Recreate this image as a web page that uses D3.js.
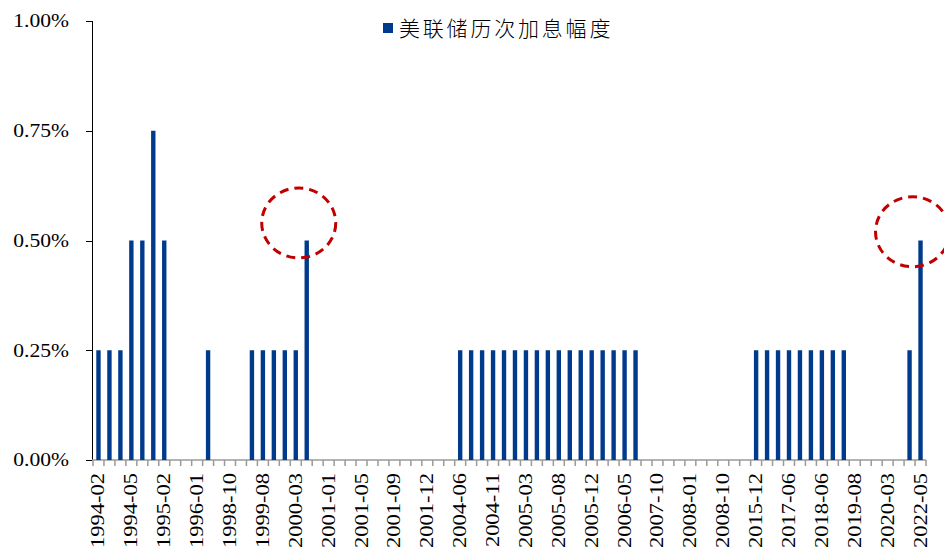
<!DOCTYPE html>
<html>
<head>
    <meta charset="utf-8">
    <title>美联储历次加息幅度</title>
    <style type="text/css">
        body { margin: 0; background: #fff; }
        .y.axis path, .y.axis line { stroke: #000; shape-rendering: crispEdges; }
        .x.axis path, .x.axis line { stroke: #9a9a9a; stroke-width: 1.5; }
        .axis text { font-family: "Liberation Serif", "Times New Roman", serif; fill: #000; }
        .legend text { font-family: "Noto Sans CJK SC", sans-serif; font-weight: 300; }
    </style>
</head>
<body>
<svg width="944" height="553"></svg>

<script src="https://cdnjs.cloudflare.com/ajax/libs/d3/7.8.5/d3.min.js"></script>
<script type="text/javascript">
    /*=========DATA=========*/
    // FOMC 利率变动月份（降息记为 0）
    var months = [
        '1994-02', '1994-03', '1994-04', '1994-05', '1994-08', '1994-11', '1995-02', '1995-07',
        '1995-12', '1996-01', '1997-03', '1998-09', '1998-10', '1998-11', '1999-06', '1999-08',
        '1999-11', '2000-02', '2000-03', '2000-05', '2001-01', '2001-01', '2001-03', '2001-04',
        '2001-05', '2001-06', '2001-08', '2001-09', '2001-10', '2001-11', '2001-12', '2002-11',
        '2003-06', '2004-06', '2004-08', '2004-09', '2004-11', '2004-12', '2005-02', '2005-03',
        '2005-05', '2005-06', '2005-08', '2005-09', '2005-11', '2005-12', '2006-01', '2006-03',
        '2006-05', '2006-06', '2007-09', '2007-10', '2007-12', '2008-01', '2008-01', '2008-03',
        '2008-04', '2008-10', '2008-10', '2008-12', '2015-12', '2016-12', '2017-03', '2017-06',
        '2017-12', '2018-03', '2018-06', '2018-09', '2018-12', '2019-08', '2019-09', '2019-10',
        '2020-03', '2020-03', '2022-03', '2022-05'
    ];
    var hikes = [
        0.25, 0.25, 0.25, 0.50, 0.50, 0.75, 0.50, 0,
        0, 0, 0.25, 0, 0, 0, 0.25, 0.25,
        0.25, 0.25, 0.25, 0.50, 0, 0, 0, 0,
        0, 0, 0, 0, 0, 0, 0, 0,
        0, 0.25, 0.25, 0.25, 0.25, 0.25, 0.25, 0.25,
        0.25, 0.25, 0.25, 0.25, 0.25, 0.25, 0.25, 0.25,
        0.25, 0.25, 0, 0, 0, 0, 0, 0,
        0, 0, 0, 0, 0.25, 0.25, 0.25, 0.25,
        0.25, 0.25, 0.25, 0.25, 0.25, 0, 0, 0,
        0, 0, 0.25, 0.50
    ];
    var yTicks = [0, 0.25, 0.5, 0.75, 1.0];
    var seriesName = '美联储历次加息幅度';
    // 圈出的两次 50bp 加息
    var highlights = [{ i: 19, v: 0.54 }, { i: 75, v: 0.52 }];

    /*===========COLOR=======*/
    var barColor = '#003a8c';
    var markColor = '#c00000';

    /*=========computed============*/
    var svg = d3.select('svg');
    var idx = months.map((d, i) => i);

    var xScale = d3.scaleBand().domain(idx).range([93, 926]).paddingInner(0.6).paddingOuter(0.3);
    var yScale = d3.scaleLinear().domain([0, 1]).range([460, 21]);

    // 坐标轴
    var yAxis = d3.axisLeft(yScale).tickValues(yTicks).tickSize(6).tickPadding(17)
        .tickFormat(d => d3.format('.2f')(d) + '%');
    svg.append('g').attr('class', 'y axis')
        .attr('transform', 'translate(92,0)')
        .call(yAxis)
        .selectAll('text')
        .attr('x', 0)
        .attr('transform', 'translate(-23,0) scale(1.2,1)')
        .style('font-size', '18px');

    // 类别边界刻度
    var step = xScale.step();
    var xg = svg.append('g').attr('class', 'x axis');
    xg.append('line')
        .attr('x1', 92).attr('x2', 926)
        .attr('y1', 460).attr('y2', 460);
    xg.selectAll('line.tick').data(d3.range(months.length + 1)).enter()
        .append('line').attr('class', 'tick')
        .attr('x1', i => 93 + i * step).attr('x2', i => 93 + i * step)
        .attr('y1', 460).attr('y2', 466);
    xg.selectAll('text').data(idx.filter(i => i % 3 === 0)).enter()
        .append('text')
        .attr('transform', i => 'translate(' + (xScale(i) + xScale.bandwidth() / 2 + 6) + ',473) rotate(-90) scale(1.25,1)')
        .attr('text-anchor', 'end')
        .style('font-size', '18px')
        .text(i => months[i]);

    // 柱子
    svg.append('g').selectAll('rect').data(idx).enter()
        .append('rect')
        .attr('x', i => xScale(i))
        .attr('width', xScale.bandwidth())
        .attr('y', i => yScale(hikes[i]))
        .attr('height', i => yScale(0) - yScale(hikes[i]))
        .attr('fill', barColor);

    // 标注圈
    svg.append('g').selectAll('ellipse').data(highlights).enter()
        .append('ellipse')
        .attr('cx', d => xScale(d.i) + xScale.bandwidth() / 2 - 8)
        .attr('cy', d => yScale(d.v))
        .attr('rx', 37)
        .attr('ry', 35)
        .attr('fill', 'none')
        .attr('stroke', markColor)
        .attr('stroke-width', 3)
        .attr('stroke-dasharray', '9,6');

    // 图例
    var legend = svg.append('g').attr('class', 'legend');
    legend.append('rect').attr('x', 383).attr('y', 23).attr('width', 10).attr('height', 10).attr('fill', barColor);
    legend.append('text').attr('x', 399).attr('y', 36)
        .style('font-size', '21px').style('letter-spacing', '2.8px')
        .text(seriesName);
</script>
</body>
</html>
